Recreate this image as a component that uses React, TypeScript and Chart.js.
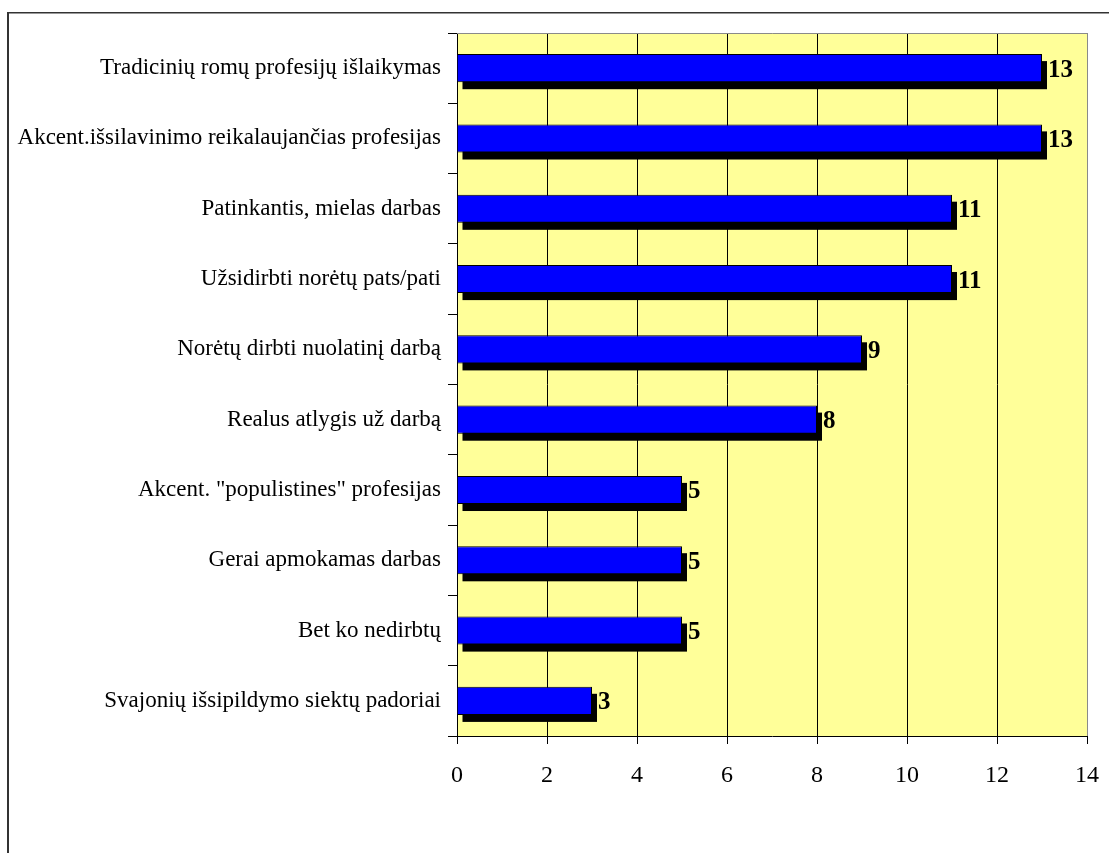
import React, { useEffect, useRef } from "react";
import { Chart, registerables } from "chart.js";

Chart.register(...registerables);

const categories: string[] = [
  "Tradicinių romų profesijų išlaikymas",
  "Akcent.išsilavinimo reikalaujančias profesijas",
  "Patinkantis, mielas darbas",
  "Užsidirbti norėtų pats/pati",
  "Norėtų dirbti nuolatinį darbą",
  "Realus atlygis už darbą",
  "Akcent. \"populistines\" profesijas",
  "Gerai apmokamas darbas",
  "Bet ko nedirbtų",
  "Svajonių išsipildymo siektų padoriai",
];
const values: number[] = [13, 13, 11, 11, 9, 8, 5, 5, 5, 3];
const xMin = 0;
const xMax = 14;
const xStep = 2;

const W = 1109;
const H = 853;
const FONT = "'Liberation Serif', 'Times New Roman', serif";

const decorPlugin = {
  id: "decor",
  beforeDraw(chart: any) {
    const { ctx, chartArea } = chart;
    ctx.save();
    ctx.fillStyle = "#ffffff";
    ctx.fillRect(0, 0, W, H);
    // outer frame
    ctx.fillStyle = "#333333";
    ctx.fillRect(7, 12, W, 1.5);
    ctx.fillRect(7, 12, 2, H);
    // plot background
    ctx.fillStyle = "#FFFF99";
    ctx.fillRect(chartArea.left, chartArea.top, chartArea.right - chartArea.left, chartArea.bottom - chartArea.top);
    ctx.restore();
  },
  beforeDatasetsDraw(chart: any) {
    const { ctx, chartArea } = chart;
    ctx.save();
    // top and right plot border (gray)
    ctx.strokeStyle = "#8a8a8a";
    ctx.lineWidth = 1;
    ctx.beginPath();
    ctx.moveTo(chartArea.left, chartArea.top + 0.5);
    ctx.lineTo(chartArea.right + 0.5, chartArea.top + 0.5);
    ctx.lineTo(chartArea.right + 0.5, chartArea.bottom);
    ctx.stroke();
    // shadows
    const meta = chart.getDatasetMeta(0);
    ctx.fillStyle = "#000000";
    meta.data.forEach((el: any) => {
      const dx = 5;
      const dy = 7;
      const h = el.height;
      ctx.fillRect(el.base + dx, el.y - h / 2 + dy, el.x - el.base, h);
    });
    ctx.restore();
  },
  afterDatasetsDraw(chart: any) {
    const { ctx } = chart;
    const meta = chart.getDatasetMeta(0);
    ctx.save();
    ctx.fillStyle = "#000000";
    ctx.font = `bold 25px ${FONT}`;
    ctx.textAlign = "left";
    ctx.textBaseline = "middle";
    meta.data.forEach((el: any, i: number) => {
      ctx.fillText(String(values[i]), el.x + 6, el.y + 2);
    });
    ctx.restore();
  },
};

export default function App() {
  const ref = useRef<HTMLCanvasElement | null>(null);
  useEffect(() => {
    document.body.style.overflow = "hidden";
    const canvas = ref.current;
    if (!canvas) return;
    const chart = new Chart(canvas, {
      type: "bar",
      data: {
        labels: categories,
        datasets: [
          {
            data: values,
            backgroundColor: "#0000FF",
            borderColor: "#000000",
            borderWidth: 1,
            categoryPercentage: 1,
            barPercentage: 0.4,
          },
        ],
      },
      options: {
        indexAxis: "y",
        animation: false,
        responsive: false,
        devicePixelRatio: 1,
        layout: { padding: { top: 33, right: 22, left: 0, bottom: 0 } },
        plugins: {
          legend: { display: false },
          tooltip: { enabled: false },
        },
        scales: {
          x: {
            min: xMin,
            max: xMax,
            ticks: {
              stepSize: xStep,
              color: "#000000",
              font: { family: FONT, size: 24 },
              padding: 17,
            },
            grid: {
              color: (c: any) => (c.tick && c.tick.value === xMax ? "#8a8a8a" : "#000000"),
              tickColor: "#000000",
              tickLength: 8,
              lineWidth: 1,
            },
            border: { color: "#000000", width: 1 },
            afterFit: (s: any) => {
              s.height = 117;
              s.paddingLeft = 0;
              s.paddingRight = 0;
            },
          },
          y: {
            ticks: {
              color: "#000000",
              font: { family: FONT, size: 23 },
              padding: 7,
              autoSkip: false,
            },
            grid: {
              offset: true,
              drawOnChartArea: false,
              tickColor: "#000000",
              tickLength: 9,
            },
            border: { color: "#000000", width: 1 },
            afterFit: (s: any) => {
              s.width = 457;
              s.paddingTop = 0;
              s.paddingBottom = 0;
            },
          },
        },
      },
      plugins: [decorPlugin],
    });
    return () => chart.destroy();
  }, []);
  return (
    <div style={{ position: "absolute", left: 0, top: 0, width: W, height: H }}>
      <canvas ref={ref} width={W} height={H} style={{ width: W, height: H, display: "block" }} />
    </div>
  );
}
